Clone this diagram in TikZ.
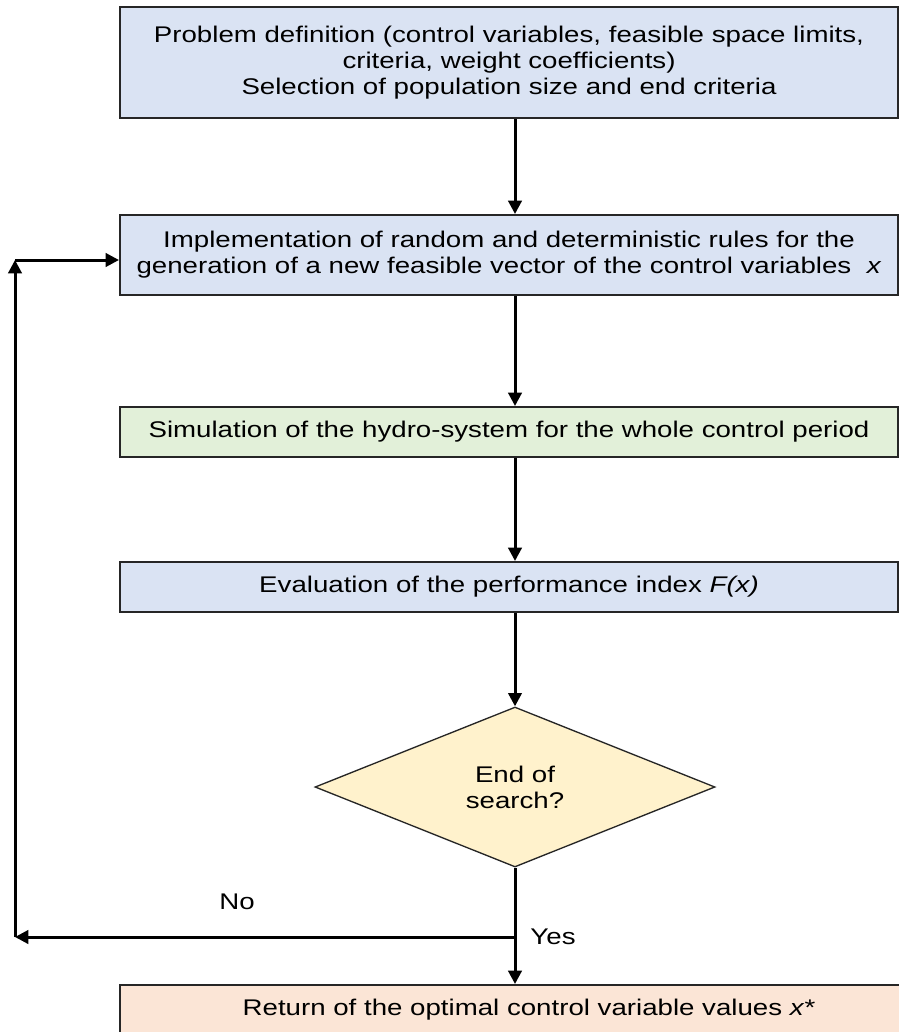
\documentclass[tikz,border=0pt]{standalone}
\usepackage{fontspec}
\setmainfont{Liberation Sans}[FakeStretch=1.22]
\usetikzlibrary{arrows.meta,shapes.geometric}

\definecolor{defblue}{HTML}{DAE3F3}
\definecolor{simgreen}{HTML}{E2F0D9}
\definecolor{testyellow}{HTML}{FFF2CC}
\definecolor{retpeach}{HTML}{FBE5D6}

\begin{document}
\begin{tikzpicture}[x=0.75pt,y=-0.75pt]
	\tikzset{
		box/.style={draw=black!85,line width=1.5pt,minimum width=583.5pt,minimum height=37.5pt,align=center,inner sep=2pt,font=\fontsize{17pt}{19.5pt}\selectfont},
		test/.style={diamond,draw=black!85,line width=1pt,fill=testyellow,minimum width=300pt,minimum height=120pt,aspect=2.5,inner sep=0pt,align=center,font=\fontsize{17pt}{19.5pt}\selectfont},
		flow/.style={line width=2.25pt,-{Triangle[length=10pt,width=10pt]}},
		lbl/.style={font=\fontsize{17pt}{19.5pt}\selectfont}
	}
	\useasboundingbox (0,0) rectangle (899,1032);
	\fill[white] (0,0) rectangle (899,1032);
	\clip (0,0) rectangle (899,1032);
	\path
	(509,62.5) node[box,fill=defblue,minimum height=83.25pt](def){Problem definition (control variables, feasible space limits,\\criteria, weight coefficients)\\Selection of population size and end criteria}
	(509,255) node[box,fill=defblue,minimum height=60pt](gen){Implementation of random and deterministic rules for the\\generation of a new feasible vector of the control variables \ \textit{x}}
	(509,432) node[box,fill=simgreen](sim){Simulation of the hydro-system for the whole control period}
	(509,587) node[box,fill=defblue](eval){Evaluation of the performance index \textit{F(x)}}
	(515,787) node[test](stop){End of\\search?}
	(529,1010) node[box,fill=retpeach,minimum width=613.5pt](ret){Return of the optimal control variable values \textit{x}*}
	(237,902) node[lbl](no){No}
	(553,937) node[lbl](yes){Yes}
	(515,937) coordinate(split)
	(15,937) coordinate(back)
	(15,260) coordinate(up)
	;
	\draw[flow] (def.south -| stop.north)--(gen.north -| stop.north);
	\draw[flow] (gen.south -| stop.north)--(sim.north -| stop.north);
	\draw[flow] (sim.south -| stop.north)--(eval.north -| stop.north);
	\draw[flow] (eval.south -| stop.north)--(stop.north);
	\draw[flow] (stop.south)--(stop.south |- ret.north);
	\draw[flow] (split)--(back);
	\draw[flow] (back)--(up);
	\draw[flow] (up)--(up -| gen.west);
\end{tikzpicture}
\end{document}
